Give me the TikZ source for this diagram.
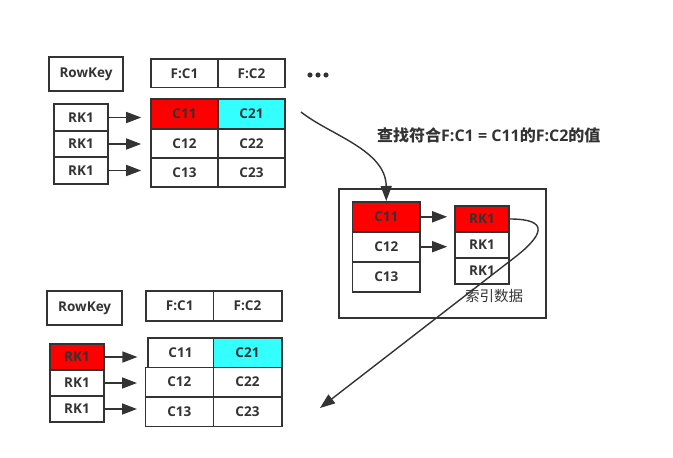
\documentclass[tikz,border=0pt]{standalone}
\usepackage{fontspec}
\setmainfont{Open Sans}
\newfontfamily\cjk{Noto Sans CJK SC}
\usetikzlibrary{arrows.meta}
\definecolor{ink}{HTML}{333333}
\definecolor{hired}{HTML}{FF0000}
\definecolor{hicyan}{HTML}{33FFFF}
\tikzset{
  cell/.style={draw=ink, line width=1.6pt, rectangle, inner sep=0pt, text=ink,
    font=\fontsize{13.5}{15}\selectfont\bfseries, fill=white},
  conn/.style={draw=ink, line width=1.6pt, -{Triangle[length=15pt,width=11pt]}},
  longconn/.style={draw=ink, line width=1.4pt, -{Triangle[length=15pt,width=11pt]}},
}
\begin{document}
\begin{tikzpicture}[x=1pt,y=-1pt]
\useasboundingbox (0,0) rectangle (673,458);
% ---------- top table ----------
\node[cell, minimum width=74pt, minimum height=34pt] (rk0) at (86,74) {RowKey};
\node[cell, minimum width=67pt, minimum height=28.7pt] (h1) at (184.5,73.3) {F:C1};
\node[cell, minimum width=67pt, minimum height=28.7pt] (h2) at (251.5,73.3) {F:C2};
\fill[ink] (310,75) circle (2.6) (318,75) circle (2.6) (326,75) circle (2.6);
\node[cell, fill=hired, minimum width=67pt, minimum height=30pt] (c11) at (184.5,114) {C11};
\node[cell, fill=hicyan, minimum width=67pt, minimum height=30pt] (c21) at (251.5,114) {C21};
\node[cell, minimum width=67pt, minimum height=29pt] (c12) at (184.5,143.5) {C12};
\node[cell, minimum width=67pt, minimum height=29pt] (c22) at (251.5,143.5) {C22};
\node[cell, minimum width=67pt, minimum height=29pt] (c13) at (184.5,172.5) {C13};
\node[cell, minimum width=67pt, minimum height=29pt] (c23) at (251.5,172.5) {C23};
\node[cell, minimum width=54pt, minimum height=26.5pt] (ra1) at (81,117.5) {RK1};
\node[cell, minimum width=54pt, minimum height=26.5pt] (ra2) at (81,144) {RK1};
\node[cell, minimum width=54pt, minimum height=26.5pt] (ra3) at (81,170.5) {RK1};
\draw[conn, shorten >=9pt] (ra1.east) -- (ra1.east -| c11.west);
\draw[conn, shorten >=9pt] (ra2.east) -- (ra2.east -| c12.west);
\draw[conn, shorten >=9pt] (ra3.east) -- (ra3.east -| c13.west);
% ---------- index box ----------
\node[draw=ink, line width=1.6pt, minimum width=207pt, minimum height=129pt, inner sep=0pt] (idx) at (442.5,253.5) {};
\node[cell, fill=hired, minimum width=67.3pt, minimum height=30pt] (ic11) at (386.3,216.8) {C11};
\node[cell, minimum width=67.3pt, minimum height=30pt] (ic12) at (386.3,246.7) {C12};
\node[cell, minimum width=67.3pt, minimum height=30pt] (ic13) at (386.3,276.7) {C13};
\node[cell, fill=hired, minimum width=54pt, minimum height=26pt] (irk1) at (482,219) {RK1};
\node[cell, minimum width=54pt, minimum height=26pt] (irk2) at (482,245) {RK1};
\node[cell, minimum width=54pt, minimum height=26pt] (irk3) at (482,271) {RK1};
\draw[conn, shorten >=7pt] (ic11.east) -- (ic11.east -| irk1.west);
\draw[conn, shorten >=7pt] (ic12.east) -- (ic12.east -| irk2.west);
\node[text=ink, font=\cjk\fontsize{14.5}{16}\selectfont] (lbl) at (494,296) {索引数据};
\node[text=ink, anchor=west, inner sep=0pt] (title) at (377,135)
  {\fontsize{16}{18}\selectfont\cjk\bfseries 查找符合\rmfamily\bfseries F:C1 = C11\cjk\bfseries 的\rmfamily\bfseries F:C2\cjk\bfseries 的值};
% ---------- bottom table ----------
\node[cell, minimum width=75pt, minimum height=34pt] (rkb) at (84.7,308) {RowKey};
\node[cell, minimum width=67.3pt, minimum height=30pt] (hh1) at (179.7,306) {F:C1};
\node[cell, minimum width=68.4pt, minimum height=30pt] (hh2) at (247.5,306) {F:C2};
\node[cell, minimum width=65.6pt, minimum height=29.6pt] (bc11) at (180.5,352.5) {C11};
\node[cell, fill=hicyan, minimum width=68.4pt, minimum height=29.6pt] (bc21) at (247.5,352.5) {C21};
\node[cell, minimum width=68pt, minimum height=29.4pt] (bc12) at (179.3,382) {C12};
\node[cell, minimum width=68.4pt, minimum height=29.4pt] (bc22) at (247.5,382) {C22};
\node[cell, minimum width=68pt, minimum height=29.6pt] (bc13) at (179.3,411.8) {C13};
\node[cell, minimum width=68.4pt, minimum height=29.6pt] (bc23) at (247.5,411.8) {C23};
\node[cell, fill=hired, minimum width=54pt, minimum height=26pt] (rb1) at (77,357) {RK1};
\node[cell, minimum width=54pt, minimum height=26pt] (rb2) at (77,383) {RK1};
\node[cell, minimum width=54pt, minimum height=26pt] (rb3) at (77,409) {RK1};
\draw[conn, shorten >=9.5pt] (rb1.east) -- (rb1.east -| bc11.west);
\draw[conn, shorten >=7.5pt] (rb2.east) -- (rb2.east -| bc12.west);
\draw[conn, shorten >=7.5pt] (rb3.east) -- (rb3.east -| bc13.west);
% ---------- long curved connectors ----------
\coordinate (qstart) at (301,112);
\coordinate (qend) at (320,408);
\draw[longconn] (qstart) .. controls (330,135) and (386,150) .. (ic11.north);
\draw[longconn] (irk1.east) .. controls (550,219) and (545,235) .. (510,261) -- (qend);
\end{tikzpicture}
\end{document}
